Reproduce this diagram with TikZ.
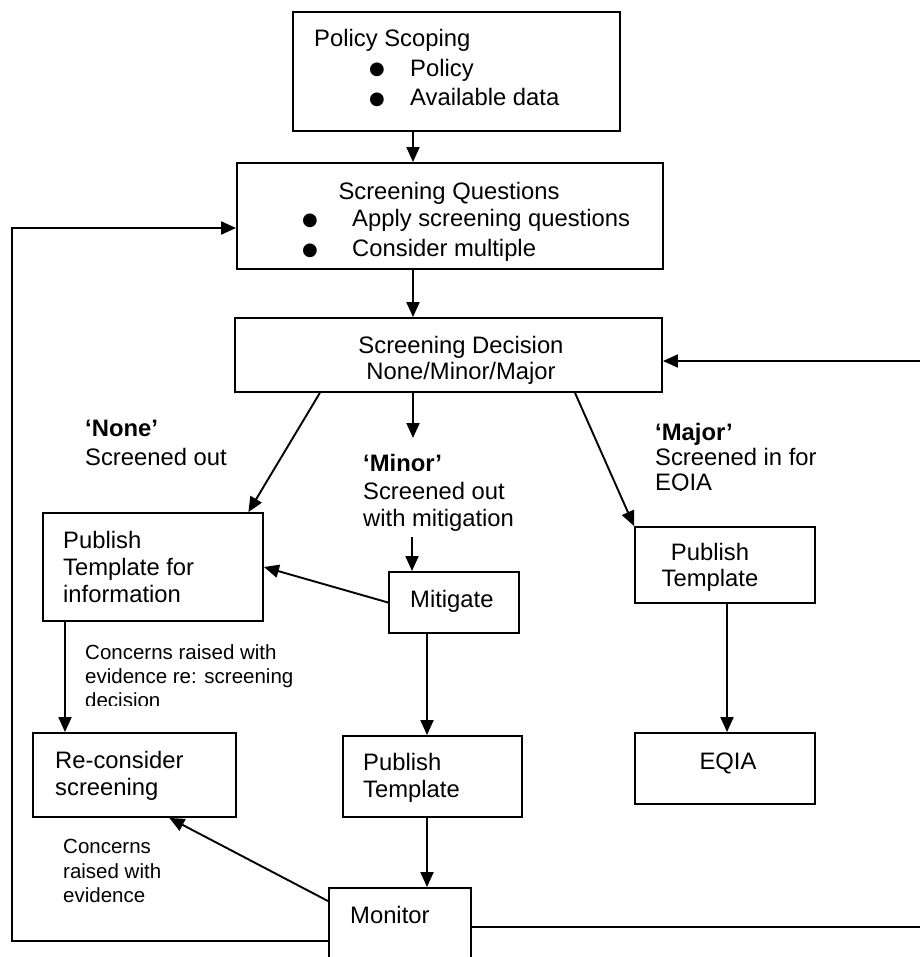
\documentclass[tikz,border=0pt]{standalone}
\usepackage{fontspec}
\setmainfont{Liberation Sans}
\newfontfamily\symfont{DejaVu Sans}
\usetikzlibrary{arrows.meta, calc}

\newcommand\bul{\raisebox{1.5pt}{\symfont\fontsize{18}{18}\selectfont ●}}

\begin{document}
\begin{tikzpicture}[x=1pt, y=-1pt]

\tikzset{box/.style = {draw, line width=1.9pt, inner sep=0pt},
         arr/.style = {line width=1.9pt, -{Triangle[length=15pt, width=13pt]}},
         txt/.style = {anchor=north west, inner sep=0pt, align=left, yshift=-3pt,
                       font=\fontsize{23.8}{#1}\selectfont,
                       execute at begin node={\rule{0pt}{18.5pt}}},
         txt/.default = 27,
         ctxt/.style = {txt=#1, anchor=north, align=center},
         ctxt/.default = 27,
         small/.style = {anchor=north west, inner sep=0pt, align=left, yshift=-2pt,
                         font=\fontsize{20.5}{#1}\selectfont,
                         execute at begin node={\rule{0pt}{16pt}}},
         small/.default = 24.5}

\useasboundingbox (0,0) rectangle (919,957);

% columns the arrows run along
\coordinate (col)      at (413,0);
\coordinate (leftcol)  at (65,0);
\coordinate (midcol)   at (427,0);
\coordinate (rightcol) at (727,0);
\coordinate (loopl)    at (12,228);  % corner of the loop back to the questions
\coordinate (loopr)    at (921,361); % corner of the loop back to the decision
\coordinate (minorin)  at (413,438);
\coordinate (minorout) at (412,537);

% boxes
\node[box, minimum width=327pt, minimum height=119pt] (scope)      at (456.5,71.5) {};
\node[box, minimum width=426pt, minimum height=106pt] (questions)  at (450,216)    {};
\node[box, minimum width=427pt, minimum height=74pt]  (decision)   at (448.5,355)  {};
\node[box, minimum width=220pt, minimum height=108pt] (pubinfo)    at (153,567)    {};
\node[box, minimum width=130pt, minimum height=61pt]  (mitigate)   at (454,602.5)  {};
\node[box, minimum width=180pt, minimum height=76pt]  (pubmajor)   at (725,565)    {};
\node[box, minimum width=203pt, minimum height=84pt]  (reconsider) at (134.5,775)  {};
\node[box, minimum width=179pt, minimum height=81pt]  (pubminor)   at (432.5,776.5){};
\node[box, minimum width=180pt, minimum height=71pt]  (eqia)       at (725,768.5)  {};
\node[box, minimum width=142pt, minimum height=87pt]  (monitor)    at (400,931.5)  {};

% box texts
\node[txt=29.5] (scopetxt) at (314,26.5)
    {Policy Scoping\\
     \hspace*{55pt}\makebox[41pt][l]{\bul}Policy\\
     \hspace*{55pt}\makebox[41pt][l]{\bul}Available data};
\node[ctxt] (questxt) at (449,177.5) {Screening Questions};
\node[txt=30] (queslist) at (302,206.5)
    {\makebox[50pt][l]{\bul}Apply screening questions\\
     \makebox[50pt][l]{\bul}Consider multiple};
\node[ctxt=26] (dectxt) at (461,333.5) {Screening Decision\\None/Minor/Major};
\node[txt] (pubinfotxt) at (63,528.5) {Publish\\Template for\\information};
\node[txt] (mitigatetxt) at (410,585.5) {Mitigate};
\node[ctxt=26] (pubmajortxt) at (710,540.5) {Publish\\Template};
\node[txt] (reconsidertxt) at (55,748.5) {Re-consider\\screening};
\node[txt] (pubminortxt) at (363,750.5) {Publish\\Template};
\node[ctxt] (eqiatxt) at (728,747.5) {EQIA};
\node[txt] (monitortxt) at (350,901.5) {Monitor};

% branch labels
\node[txt=29] (nonelab) at (85,416.5) {\textbf{‘None’}\\Screened out};
\node[txt=27.5] (minorlab) at (363,451.5) {\textbf{‘Minor’}\\Screened out\\with mitigation};
\begin{scope}
  \clip (600,400) rectangle (900,490);
  \node[txt=25] (majorlab) at (655,420.5) {\textbf{‘Major’}\\Screened in for\\EQIA};
\end{scope}
\begin{scope}
  \clip (70,620) rectangle (400,705);
  \node[small=24] (concernsa) at (85,642) {Concerns raised with\\evidence re: screening\\decision};
\end{scope}
\node[small] (concernsb) at (63,837) {Concerns\\raised with\\evidence};

% arrows
\draw[arr] (scope.south -| col) -- (questions.north -| col);
\draw[arr] (questions.south -| col) -- (decision.north -| col);
\draw[arr] ($(decision.south west)!0.2!(decision.south east)$)
        -- ($(pubinfo.north west)!0.93!(pubinfo.north east)$);
\draw[arr] (decision.south -| col) -- (minorin);
\draw[arr] (minorout) -- (mitigate.north -| minorout);
\draw[arr] ($(decision.south west)!0.795!(decision.south east)$) -- (pubmajor.north west);
\draw[arr] (mitigate.west) -- (pubinfo.east);
\draw[arr] (pubinfo.south -| leftcol) -- (reconsider.north -| leftcol);
\draw[arr] (mitigate.south -| midcol) -- (pubminor.north -| midcol);
\draw[arr] (pubminor.south -| midcol) -- (monitor.north -| midcol);
\draw[arr] (pubmajor.south -| rightcol) -- (eqia.north -| rightcol);
\draw[arr] ($(monitor.north west)+(0,14)$)
        -- ($(reconsider.south west)!0.67!(reconsider.south east)$);

% loops back from the monitor
\draw[arr] ($(monitor.north west)+(0,54)$) -| (loopl) -- (loopl -| questions.west);
\draw[arr] ($(monitor.north east)+(0,40)$) -| (loopr) -- (loopr -| decision.east);

\end{tikzpicture}
\end{document}
